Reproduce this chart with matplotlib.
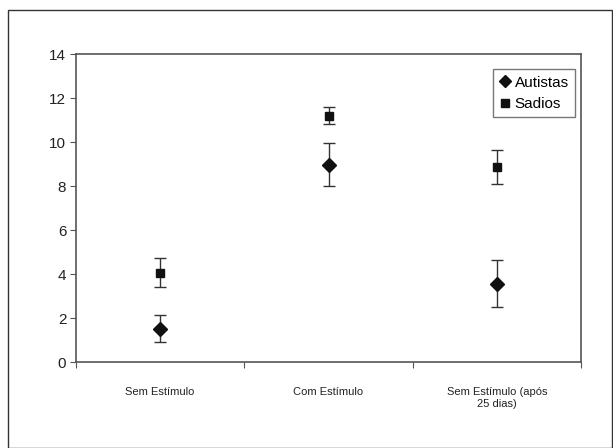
import matplotlib
matplotlib.use("Agg")
import matplotlib.pyplot as plt
from matplotlib.patches import Rectangle
from matplotlib.lines import Line2D
import numpy as np

categories = ["Sem Estímulo", "Com Estímulo", "Sem Estímulo (após\n25 dias)"]
autistas = [1.5, 8.95, 3.55]
autistas_low = [0.9, 8.0, 2.5]
autistas_high = [2.15, 9.97, 4.65]
sadios = [4.05, 11.17, 8.87]
sadios_low = [3.43, 10.81, 8.1]
sadios_high = [4.75, 11.57, 9.63]
yticks = [0, 2, 4, 6, 8, 10, 12, 14]

plt.rcParams['font.family'] = ['Liberation Sans', 'DejaVu Sans']

fig = plt.figure(figsize=(6.13, 4.48), dpi=100)
fig.patch.set_facecolor('white')
fig.patches.append(Rectangle((8/613, 0), 604/613, 438/448, transform=fig.transFigure,
                             fill=False, edgecolor='#333333', linewidth=1.0))
ax = fig.add_axes([76/613, 1-362/448, 505/613, 308/448])

x = np.arange(len(categories))
a = np.array(autistas); s = np.array(sadios)
ax.errorbar(x, s, yerr=[s - np.array(sadios_low), np.array(sadios_high) - s],
            fmt='s', color='#111111', ecolor='#333333', elinewidth=1.0, capsize=4.5,
            capthick=1.0, markersize=6, zorder=3)
ax.errorbar(x, a, yerr=[a - np.array(autistas_low), np.array(autistas_high) - a],
            fmt='D', color='#111111', ecolor='#333333', elinewidth=1.0, capsize=4.5,
            capthick=1.0, markersize=7, zorder=3)

ax.set_xlim(-0.5, 2.5)
ax.set_ylim(0, 14)
ax.set_yticks(yticks)
ax.set_yticklabels([str(v) for v in yticks], fontsize=11, color='#222222')
ax.set_xticks([-0.5, 0.5, 1.5, 2.5])
ax.set_xticklabels([])
ax.set_xticks(x, minor=True)
ax.set_xticklabels(categories, minor=True, fontsize=8, color='#222222')
ax.tick_params(axis='x', which='minor', length=0, pad=18)
ax.tick_params(axis='x', which='major', length=4, color='#555555', direction='out')
ax.tick_params(axis='y', length=4, color='#555555', direction='out', pad=3)
for sp in ax.spines.values():
    sp.set_color('#555555')
    sp.set_linewidth(1.2)

handles = [Line2D([], [], marker='D', color='#111111', linestyle='none', markersize=6),
           Line2D([], [], marker='s', color='#111111', linestyle='none', markersize=5.5)]
leg = ax.legend(handles, ['Autistas', 'Sadios'],
                loc='upper right', bbox_to_anchor=(0.988, 0.95), fontsize=11,
                frameon=True, fancybox=False, edgecolor='#555555', handlelength=0.7,
                handletextpad=0.3, borderpad=0.4, labelspacing=0.5, borderaxespad=0)
leg.get_frame().set_linewidth(1.0)

fig.savefig('out.png', dpi=100, facecolor='white')
